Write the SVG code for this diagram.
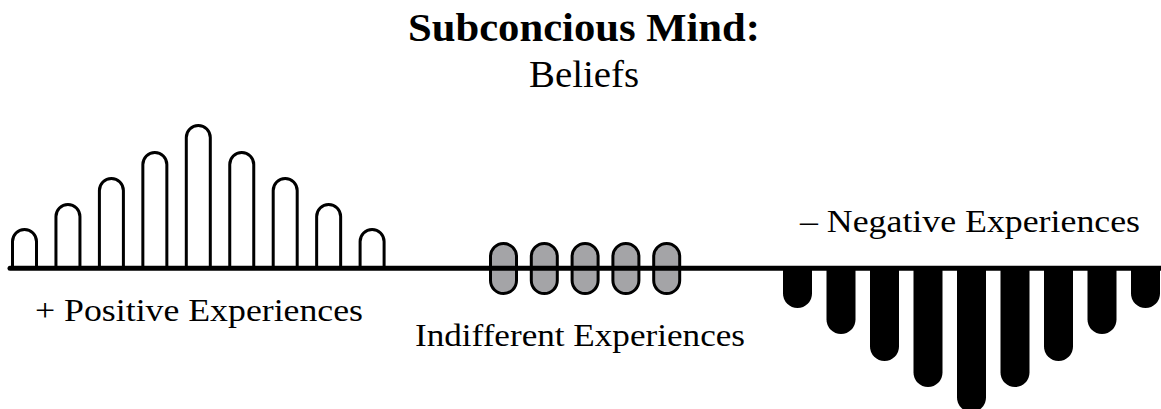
<svg xmlns="http://www.w3.org/2000/svg" width="1161" height="409" viewBox="0 0 1161 409">
<style>
.lbl{font-family:"Liberation Serif","DejaVu Serif",serif;font-size:32px;fill:#000;text-anchor:middle}
.pos{fill:#fff;stroke:#000;stroke-width:3}
.ind{fill:#a4a4a7;stroke:#000;stroke-width:3}
.neg{fill:#000;stroke:none}
</style>
<rect width="1161" height="409" fill="#fff"/>
<g id="title">
<text x="584" y="41" class="lbl" style="font-weight:bold;font-size:40px" textLength="352" lengthAdjust="spacingAndGlyphs">Subconcious Mind:</text>
<text x="584" y="87" class="lbl" style="font-size:37px" textLength="110" lengthAdjust="spacingAndGlyphs">Beliefs</text>
</g>
<g id="positive">
<path class="pos" d="M12.5,268 V241.5 A12,12 0 0 1 36.5,241.5 V268"/>
<path class="pos" d="M55.95,268 V216.5 A12,12 0 0 1 79.95,216.5 V268"/>
<path class="pos" d="M99.4,268 V190.5 A12,12 0 0 1 123.4,190.5 V268"/>
<path class="pos" d="M142.85,268 V164.5 A12,12 0 0 1 166.85,164.5 V268"/>
<path class="pos" d="M186.3,268 V137.5 A12,12 0 0 1 210.3,137.5 V268"/>
<path class="pos" d="M229.75,268 V164.5 A12,12 0 0 1 253.75,164.5 V268"/>
<path class="pos" d="M273.2,268 V190.5 A12,12 0 0 1 297.2,190.5 V268"/>
<path class="pos" d="M316.65,268 V216.5 A12,12 0 0 1 340.65,216.5 V268"/>
<path class="pos" d="M360.1,268 V241.5 A12,12 0 0 1 384.1,241.5 V268"/>
<text x="199" y="321" class="lbl" textLength="328" lengthAdjust="spacingAndGlyphs">+ Positive Experiences</text>
</g>
<g id="indifferent">
<rect class="ind" x="490.5" y="243.5" width="26" height="50" rx="13"/>
<rect class="ind" x="531.3" y="243.5" width="26" height="50" rx="13"/>
<rect class="ind" x="572.1" y="243.5" width="26" height="50" rx="13"/>
<rect class="ind" x="612.9" y="243.5" width="26" height="50" rx="13"/>
<rect class="ind" x="653.7" y="243.5" width="26" height="50" rx="13"/>
<text x="580" y="346" class="lbl" textLength="330" lengthAdjust="spacingAndGlyphs">Indifferent Experiences</text>
</g>
<g id="negative">
<path class="neg" d="M783,268 V293.5 A14.5,14.5 0 0 0 812,293.5 V268 Z"/>
<path class="neg" d="M826.5,268 V319.5 A14.5,14.5 0 0 0 855.5,319.5 V268 Z"/>
<path class="neg" d="M870,268 V346.5 A14.5,14.5 0 0 0 899,346.5 V268 Z"/>
<path class="neg" d="M913.5,268 V372.5 A14.5,14.5 0 0 0 942.5,372.5 V268 Z"/>
<path class="neg" d="M957,268 V397.5 A14.5,14.5 0 0 0 986,397.5 V268 Z"/>
<path class="neg" d="M1000.5,268 V372.5 A14.5,14.5 0 0 0 1029.5,372.5 V268 Z"/>
<path class="neg" d="M1044,268 V346.5 A14.5,14.5 0 0 0 1073,346.5 V268 Z"/>
<path class="neg" d="M1087.5,268 V319.5 A14.5,14.5 0 0 0 1116.5,319.5 V268 Z"/>
<path class="neg" d="M1131,268 V293.5 A14.5,14.5 0 0 0 1160,293.5 V268 Z"/>
<text x="970" y="232" class="lbl" textLength="340" lengthAdjust="spacingAndGlyphs">– Negative Experiences</text>
</g>
<g id="connectors">
<line x1="10" y1="268.3" x2="1161" y2="268.3" stroke="#000" stroke-width="5" stroke-linecap="round"/>
</g>
</svg>
